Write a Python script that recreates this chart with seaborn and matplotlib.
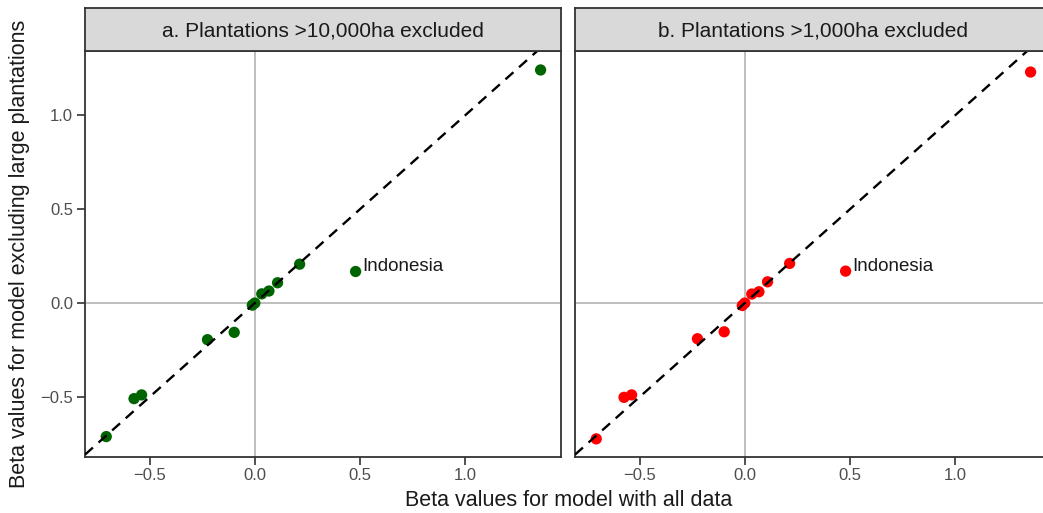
import pandas as pd
import matplotlib
matplotlib.use("Agg")
import matplotlib.pyplot as plt
import seaborn as sns

# beta values, model with all data (same countries in both panels)
beta_all = [-0.706, -0.574, -0.538, -0.225, -0.098, -0.012, 0.0, 0.033, 0.067, 0.108, 0.213, 0.479, 1.358]
# beta values, model excluding large plantations
beta_excl_10k = [-0.711, -0.509, -0.489, -0.195, -0.156, -0.011, 0.0, 0.049, 0.064, 0.108, 0.207, 0.168, 1.241]
beta_excl_1k = [-0.723, -0.502, -0.489, -0.190, -0.153, -0.013, 0.0, 0.048, 0.060, 0.113, 0.211, 0.170, 1.230]
country = [""] * 11 + ["Indonesia", ""]

panel_titles = ["a. Plantations >10,000ha excluded", "b. Plantations >1,000ha excluded"]
panel_colors = ["#006400", "#FF0000"]

df = pd.concat([
    pd.DataFrame({"all": beta_all, "excl": beta_excl_10k, "country": country, "panel": panel_titles[0]}),
    pd.DataFrame({"all": beta_all, "excl": beta_excl_1k, "country": country, "panel": panel_titles[1]}),
])

sns.set_style("white")
plt.rcParams['font.family'] = ['Liberation Sans', 'DejaVu Sans']

W, H = 1043, 513
fig = plt.figure(figsize=(W / 100, H / 100), dpi=100)

left_px = [85, 575]
panel_w = 476
top_px, bottom_px, strip_top = 51, 456.5, 8.3
dark = "#333333"

for i, title in enumerate(panel_titles):
    ax = fig.add_axes([left_px[i] / W, (H - bottom_px) / H, panel_w / W, (bottom_px - top_px) / H])
    sub = df[df["panel"] == title]
    ax.axhline(0, color="#BEBEBE", lw=1.4, zorder=1)
    ax.axvline(0, color="#BEBEBE", lw=1.4, zorder=1)
    sns.scatterplot(data=sub, x="all", y="excl", color=panel_colors[i], s=66,
                    edgecolor="none", ax=ax, zorder=3, legend=False)
    # 1:1 line drawn over the points, as in the original
    ax.axline((0, 0), slope=1, color="black", lw=1.7, ls=(0, (4.5, 3.2)), zorder=4)
    for _, r in sub[sub["country"] != ""].iterrows():
        ax.annotate(r["country"], (r["all"], r["excl"]), xytext=(4.5, 3.5),
                    textcoords="offset points", ha="left", va="center",
                    fontsize=13.5, color="#1A1A1A")
    ax.set_xlim(-0.807, 1.455)
    ax.set_ylim(-0.817, 1.342)
    ax.set_xticks([-0.5, 0.0, 0.5, 1.0])
    ax.set_xticklabels(["\u22120.5", "0.0", "0.5", "1.0"])
    ax.set_yticks([-0.5, 0.0, 0.5, 1.0])
    if i == 0:
        ax.set_yticklabels(["\u22120.5", "0.0", "0.5", "1.0"])
        ax.tick_params(axis="y", length=5.5, width=1.2, color=dark, labelsize=12,
                       labelcolor="#4D4D4D", pad=3, left=True)
    else:
        ax.tick_params(axis="y", left=False, labelleft=False)
    ax.tick_params(axis="x", length=5.5, width=1.2, color=dark, labelsize=12,
                   labelcolor="#4D4D4D", pad=3, bottom=True)
    ax.set_xlabel("")
    ax.set_ylabel("")
    for sp in ax.spines.values():
        sp.set_color(dark)
        sp.set_linewidth(1.3)

    # facet strip
    sax = fig.add_axes([left_px[i] / W, (H - top_px) / H, panel_w / W, (top_px - strip_top) / H])
    sax.set_facecolor("#D9D9D9")
    sax.set_xticks([])
    sax.set_yticks([])
    for sp in sax.spines.values():
        sp.set_color(dark)
        sp.set_linewidth(1.3)
    sax.text(0.5, 0.48, title, ha="center", va="center", fontsize=15, color="#1A1A1A",
             transform=sax.transAxes)

fig.text(569 / W, 1 - 501 / H, "Beta values for model with all data",
         ha="center", va="center", fontsize=15.5, color="#1A1A1A")
fig.text(20 / W, 1 - 253.5 / H, "Beta values for model excluding large plantations",
         ha="center", va="center", rotation=90, fontsize=15.5, color="#1A1A1A")

fig.savefig("out.png", dpi=100)
